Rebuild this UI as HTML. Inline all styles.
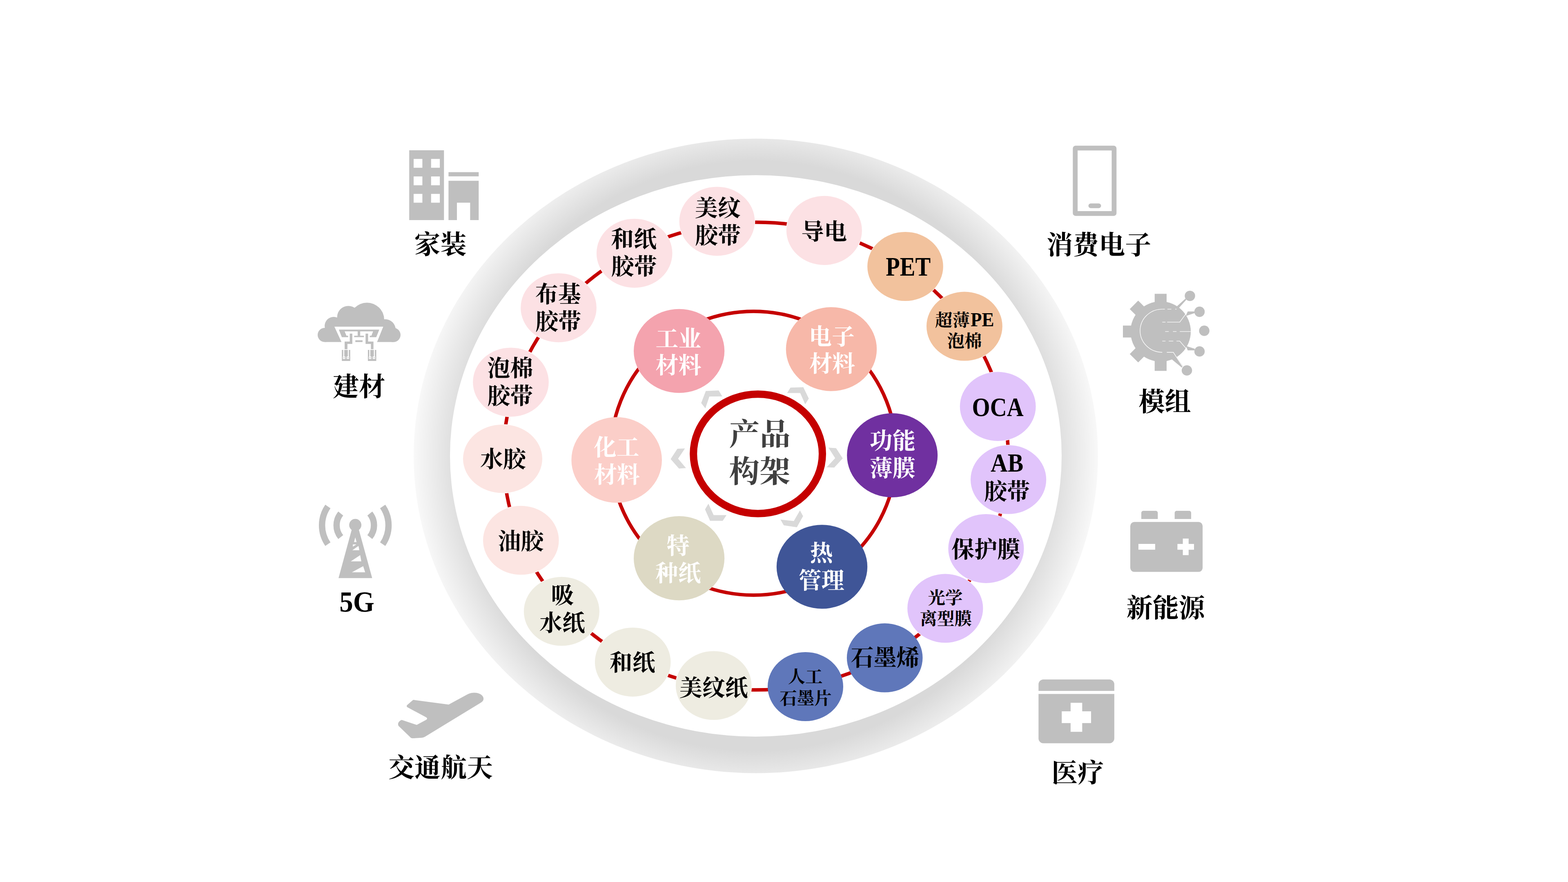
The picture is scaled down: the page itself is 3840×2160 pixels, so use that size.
<!DOCTYPE html>
<html lang="zh-CN"><head><meta charset="utf-8"><title>产品构架</title>
<style>html,body{margin:0;padding:0;background:#fff;}body{width:3840px;height:2160px;overflow:hidden;position:relative}svg{display:block;position:absolute;left:0;top:0}text{font-family:'Liberation Serif','Noto Serif CJK SC',serif;font-weight:700;text-anchor:middle;}</style></head><body>
<svg width="3840" height="2160" viewBox="0 0 3840 2160">
<defs><radialGradient id="rg" gradientUnits="userSpaceOnUse" cx="1851" cy="1116.4" r="862"><stop offset="0" stop-color="#d9d9d9"/><stop offset="0.8376" stop-color="#d9d9d9"/><stop offset="1" stop-color="#ffffff"/></radialGradient></defs>
<path d="M1013,1116.4a838,777 0 1,0 1676,0a838,777 0 1,0 -1676,0zM1102,1116.4a749,687.5 0 1,0 1498,0a749,687.5 0 1,0 -1498,0z" fill="url(#rg)" fill-rule="evenodd"/>
<ellipse cx="1851" cy="1116.9" rx="618" ry="572.7" fill="none" stroke="#c50000" stroke-width="8.5"/>
<ellipse cx="1845.5" cy="1110" rx="350" ry="347.5" fill="none" stroke="#c50000" stroke-width="8.5"/>
<polygon points="1728.5,957.4 1760.0,956.2 1768.9,970.8 1737.3,971.0 1727.4,999.9 1717.2,987.1" fill="#d9d9d9"/>
<polygon points="1935.8,949.2 1967.3,948.3 1980.7,976.0 1971.9,990.0 1959.7,962.6 1927.7,962.6" fill="#d9d9d9"/>
<polygon points="1734.9,1233.6 1747.7,1261.6 1779.2,1261.6 1769.9,1275.6 1739.0,1275.6 1726.6,1247.6" fill="#d9d9d9"/>
<polygon points="1959.1,1249.9 1966.7,1263.9 1951.5,1291.3 1919.5,1286.6 1911.4,1272.6 1944.0,1276.1" fill="#d9d9d9"/>
<polygon points="1658.9,1099.0 1677.4,1098.2 1660.6,1123.3 1679.9,1146.3 1662.8,1147.6 1642.4,1124.2" fill="#d9d9d9"/>
<polygon points="2028.8,1096.3 2047.5,1097.4 2063.8,1122.5 2043.1,1145.1 2024.4,1144.3 2045.3,1122.0" fill="#d9d9d9"/>
<ellipse cx="1856.1" cy="1111.5" rx="157.9" ry="146.2" fill="#fff" stroke="#c50000" stroke-width="18"/>
<g fill="#fff">
<ellipse cx="1756.0" cy="541.9" rx="93.4" ry="85.5"/>
<ellipse cx="1553.7" cy="620.2" rx="93.8" ry="85.5"/>
<ellipse cx="1368.0" cy="753.7" rx="93.8" ry="85.5"/>
<ellipse cx="1251.0" cy="935.9" rx="93.8" ry="85.5"/>
<ellipse cx="1231.0" cy="1123.5" rx="98" ry="84.8"/>
<ellipse cx="1275.8" cy="1323.2" rx="93.8" ry="85.4"/>
<ellipse cx="1375.4" cy="1497.2" rx="93.5" ry="85.4"/>
<ellipse cx="1549.7" cy="1621.4" rx="93.8" ry="85.5"/>
<ellipse cx="1747.7" cy="1678.8" rx="93.8" ry="85.3"/>
<ellipse cx="2314.8" cy="1489.8" rx="93.6" ry="85.2"/>
<ellipse cx="2414.9" cy="1343.4" rx="93.6" ry="85.5"/>
<ellipse cx="2469.6" cy="1174.5" rx="93.6" ry="85.3"/>
<ellipse cx="2443.7" cy="995.4" rx="93.9" ry="85.6"/>
<ellipse cx="2361.9" cy="799.1" rx="93.9" ry="85.5"/>
<ellipse cx="2217.0" cy="652.5" rx="93.8" ry="85.5"/>
<ellipse cx="2018.4" cy="564.4" rx="93.5" ry="85.6"/>
</g>
<ellipse cx="1756.0" cy="541.9" rx="92.4" ry="84.5" fill="#fce1e4"/>
<ellipse cx="1553.7" cy="620.2" rx="92.8" ry="84.5" fill="#fce1e4"/>
<ellipse cx="1368.0" cy="753.7" rx="92.8" ry="84.5" fill="#fce1e4"/>
<ellipse cx="1251.0" cy="935.9" rx="92.8" ry="84.5" fill="#fce1e4"/>
<ellipse cx="1231.0" cy="1123.5" rx="97" ry="83.8" fill="#fce5e2"/>
<ellipse cx="1275.8" cy="1323.2" rx="92.8" ry="84.4" fill="#fce5e2"/>
<ellipse cx="1375.4" cy="1497.2" rx="92.5" ry="84.4" fill="#eeece1"/>
<ellipse cx="1549.7" cy="1621.4" rx="92.8" ry="84.5" fill="#eeece1"/>
<ellipse cx="1747.7" cy="1678.8" rx="92.8" ry="84.3" fill="#eeece1"/>
<ellipse cx="1972.5" cy="1681.5" rx="92.5" ry="84.5" fill="#5f77ba"/>
<ellipse cx="2166.7" cy="1611.1" rx="92.8" ry="84.5" fill="#5f77ba"/>
<ellipse cx="2314.8" cy="1489.8" rx="92.6" ry="84.2" fill="#e1c4fb"/>
<ellipse cx="2414.9" cy="1343.4" rx="92.6" ry="84.5" fill="#e1c4fb"/>
<ellipse cx="2469.6" cy="1174.5" rx="92.6" ry="84.3" fill="#e1c4fb"/>
<ellipse cx="2443.7" cy="995.4" rx="92.9" ry="84.6" fill="#e1c4fb"/>
<ellipse cx="2361.9" cy="799.1" rx="92.9" ry="84.5" fill="#f2c29d"/>
<ellipse cx="2217.0" cy="652.5" rx="92.8" ry="84.5" fill="#f2c29d"/>
<ellipse cx="2018.4" cy="564.4" rx="92.5" ry="84.6" fill="#fce1e4"/>
<ellipse cx="1663.1" cy="859.5" rx="111.1" ry="102.8" fill="#f4a3ae"/>
<ellipse cx="2036.0" cy="855.0" rx="111.2" ry="102.8" fill="#f7b8a9"/>
<ellipse cx="2185.2" cy="1115.0" rx="111" ry="103" fill="#7030a0"/>
<ellipse cx="2013.0" cy="1388.0" rx="111.2" ry="102.8" fill="#3f5597"/>
<ellipse cx="1663.1" cy="1367.2" rx="111.1" ry="103.1" fill="#ddd9c4"/>
<ellipse cx="1510.2" cy="1126.4" rx="110.8" ry="104.8" fill="#fbcec8"/>
<text x="1757.8" y="528.7" font-size="56">美纹</text>
<text x="1758.3" y="595.5" font-size="56">胶带</text>
<text x="1552.2" y="605.4" font-size="56">和纸</text>
<text x="1552.7" y="672.4" font-size="56">胶带</text>
<text x="1366.8" y="740.3" font-size="56">布基</text>
<text x="1367.2" y="806.6" font-size="56">胶带</text>
<text x="1249.6" y="921.4" font-size="56">泡棉</text>
<text x="1249.6" y="988.8" font-size="56">胶带</text>
<text x="1232.1" y="1144.3" font-size="56">水胶</text>
<text x="1275.6" y="1345.1" font-size="56">油胶</text>
<text x="1377.4" y="1477.4" font-size="56">吸</text>
<text x="1377.1" y="1545.3" font-size="56">水纸</text>
<text x="1548.8" y="1641.8" font-size="56">和纸</text>
<text x="1747.8" y="1703.7" font-size="56">美纹纸</text>
<text x="1972.3" y="1671.5" font-size="42.5">人工</text>
<text x="1972.9" y="1724.8" font-size="42.5">石墨片</text>
<text x="2167.4" y="1630.0" font-size="56">石墨烯</text>
<text x="2315.1" y="1479.2" font-size="42.5">光学</text>
<text x="2316.3" y="1529.8" font-size="42.5">离型膜</text>
<text x="2414.2" y="1365.4" font-size="56">保护膜</text>
<text transform="translate(2466.1,1155.3) scale(0.904,1)" font-size="63.8">AB</text>
<text x="2466.2" y="1222.9" font-size="56">胶带</text>
<text transform="translate(2443.6,1018.7) scale(0.863,1)" font-size="65.7">OCA</text>
<text x="2332.4" y="798.6" font-size="42.5">超薄</text>
<text transform="translate(2405.8,799.0) scale(0.910,1)" font-size="49.4">PE</text>
<text x="2362.1" y="849.6" font-size="42.5">泡棉</text>
<text transform="translate(2224.2,675.0) scale(0.870,1)" font-size="64.9">PET</text>
<text x="2018.2" y="587.1" font-size="56">导电</text>
<text x="1661.5" y="848.6" font-size="56" fill="#fff">工业</text>
<text x="1661.5" y="914.2" font-size="56" fill="#fff">材料</text>
<text x="2037.1" y="843.9" font-size="56" fill="#fff">电子</text>
<text x="2037.9" y="910.1" font-size="56" fill="#fff">材料</text>
<text x="2185.8" y="1099.4" font-size="56" fill="#fff">功能</text>
<text x="2185.8" y="1165.8" font-size="56" fill="#fff">薄膜</text>
<text x="2011.5" y="1374.2" font-size="56" fill="#fff">热</text>
<text x="2011.8" y="1441.4" font-size="56" fill="#fff">管理</text>
<text x="1660.4" y="1355.7" font-size="56" fill="#fff">特</text>
<text x="1660.8" y="1423.0" font-size="56" fill="#fff">种纸</text>
<text x="1509.8" y="1115.0" font-size="56" fill="#fff">化工</text>
<text x="1510.7" y="1181.8" font-size="56" fill="#fff">材料</text>
<text x="1860.8" y="1089.5" font-size="75" fill="#404040">产品</text>
<text x="1860.2" y="1180.7" font-size="75" fill="#404040">构架</text>
<text x="1078.5" y="621.4" font-size="64">家装</text>
<text x="879.1" y="969.3" font-size="64">建材</text>
<text transform="translate(874.0,1497.7) scale(0.922,1)" font-size="72.6">5G</text>
<text x="1079.0" y="1902.2" font-size="64">交通航天</text>
<text x="2691.2" y="621.6" font-size="64">消费电子</text>
<text x="2852.5" y="1006.4" font-size="64">模组</text>
<text x="2854.8" y="1510.8" font-size="64">新能源</text>
<text x="2639.1" y="1914.7" font-size="64">医疗</text>
<g fill="#bfbfbf">
<rect x="1002.2" y="368" width="85.1" height="171"/>
<rect x="1098.4" y="421.6" width="73.9" height="10.3"/>
<rect x="1098.4" y="442.7" width="73.9" height="96.3"/>
</g><g fill="#fff">
<rect x="1013" y="389.2" width="21.4" height="21.6"/>
<rect x="1013" y="432.1" width="21.4" height="21.6"/>
<rect x="1013" y="474.8" width="21.4" height="21.6"/>
<rect x="1055.7" y="389.2" width="21.4" height="21.6"/>
<rect x="1055.7" y="432.1" width="21.4" height="21.6"/>
<rect x="1055.7" y="474.8" width="21.4" height="21.6"/>
<rect x="1119" y="496.4" width="32.4" height="43"/>
</g>
<g transform="translate(770,730) scale(0.11387)">
<g fill="#bfbfbf">
<circle cx="222" cy="792" r="152"/>
<circle cx="415" cy="600" r="195"/>
<circle cx="730" cy="410" r="242"/>
<circle cx="1130" cy="470" r="372"/>
<circle cx="1520" cy="682" r="228"/>
<circle cx="1697" cy="792" r="155"/>
<rect x="222" y="640" width="1475" height="305"/>
</g>
<polygon points="430,615 1480,615 1345,950 585,950" fill="#fff"/>
<g fill="#bfbfbf">
<polygon points="525,678 1395,678 1330,840 1190,840 1190,810 1225,810 1262,715 650,715 690,810 725,810 725,840 590,840"/>
<rect x="930" y="700" width="55" height="112"/>
<rect x="855" y="810" width="210" height="30"/>
<rect x="880" y="908" width="155" height="37"/>
<path d="M760,765h55v220h-105v115h-60v-165h110z"/>
<path d="M1155,765h-55v220h115v115h55v-165h-115z"/>
<rect x="590" y="1115" width="180" height="237"/>
<rect x="1150" y="1115" width="180" height="237"/>
</g>
<g fill="#fff">
<rect x="620" y="1115" width="22" height="150"/>
<rect x="718" y="1115" width="22" height="150"/>
<rect x="612" y="1255" width="52" height="55"/>
<rect x="694" y="1255" width="52" height="55"/>
<rect x="1180" y="1115" width="22" height="150"/>
<rect x="1278" y="1115" width="22" height="150"/>
<rect x="1172" y="1255" width="52" height="55"/>
<rect x="1254" y="1255" width="52" height="55"/>
</g>
<g fill="#bfbfbf">
<rect x="630" y="1272" width="18" height="20"/>
<rect x="712" y="1272" width="18" height="20"/>
<rect x="1190" y="1272" width="18" height="20"/>
<rect x="1272" y="1272" width="18" height="20"/>
</g>
</g>
<g transform="translate(770,1225) scale(0.13803)">
<g fill="#bfbfbf">
<circle cx="725" cy="440" r="108"/>
<polygon points="668,500 782,500 1025,1382 428,1382"/>
</g>
<g fill="#fff">
<polygon points="725,660 748,742 703,742"/>
<polygon points="682,785 745,785 682,825"/>
<polygon points="782,812 797,888 672,888"/>
<polygon points="812,975 832,1085 645,1085"/>
<polygon points="865,1170 900,1278 665,1278"/>
</g>
<path d="M983.0,236.1A332,332 0 0,1 983.0,653.9" fill="none" stroke="#bfbfbf" stroke-width="112"/>
<path d="M467.0,653.9A332,332 0 0,1 467.0,236.1" fill="none" stroke="#bfbfbf" stroke-width="112"/>
<path d="M1211.2,110.8A590,590 0 0,1 1211.2,779.2" fill="none" stroke="#bfbfbf" stroke-width="112"/>
<path d="M238.8,779.2A590,590 0 0,1 238.8,110.8" fill="none" stroke="#bfbfbf" stroke-width="112"/>
</g>
<g transform="translate(960,1680) scale(0.10354)">
<path fill="#bfbfbf" d="M1340,440 L1780,200 C1850,165 1900,160 1950,160 C2080,160 2165,230 2165,300 C2165,350 2130,380 2090,400 L780,1200 C750,1215 730,1222 700,1225 L490,1237 C460,1238 445,1228 430,1210 L160,950 C130,910 140,850 200,815 C215,805 230,802 250,808 L585,920 L810,800 C835,785 835,760 810,742 L370,505 C345,490 340,465 360,448 L480,345 C495,332 505,328 525,330 Z"/>
</g>
<rect x="2633.2" y="362.7" width="95.2" height="160.2" rx="1" fill="none" stroke="#bfbfbf" stroke-width="11.8" stroke-linejoin="round"/>
<rect x="2665.5" y="498.3" width="31" height="11.4" rx="5.7" fill="#bfbfbf"/>
<g transform="translate(2740,700) scale(0.15873)">
<g fill="#bfbfbf">
<circle cx="645" cy="705" r="465"/>
<rect x="1025" y="613" width="202" height="184" transform="rotate(-90 645 705)"/>
<rect x="1025" y="613" width="227" height="184" transform="rotate(90 645 705)"/>
<rect x="1025" y="613" width="202" height="184" transform="rotate(180 645 705)"/>
<rect x="1025" y="613" width="202" height="184" transform="rotate(225 645 705)"/>
<rect x="1025" y="613" width="202" height="184" transform="rotate(135 645 705)"/>
<circle cx="1097" cy="155" r="80"/>
<circle cx="1245" cy="400" r="80"/>
<circle cx="1318" cy="693" r="80"/>
<circle cx="1245" cy="1012" r="80"/>
<circle cx="1050" cy="1305" r="80"/>
<polygon points="880,330 1030,195 1040,215 905,365"/>
<polygon points="1035,465 1060,395 1170,395 1170,420"/>
<polygon points="1040,930 1060,995 1170,995 1170,970"/>
<polygon points="800,1120 850,1040 990,1240 970,1260"/>
</g>
<g fill="none" stroke="#fff" stroke-width="9">
<path d="M670,360A342,332.5 0 0,0 670,1025"/>
<path d="M670,360H890" stroke-dasharray="40 40 60 60 50 0"/>
<path d="M670,560H940L1060,398" stroke-dasharray="50 25 600 0"/>
<path d="M715,705H1108" stroke-dasharray="55 65 55 50 170 0"/>
<path d="M670,853H940L1060,992" stroke-dasharray="50 50 70 50 600 0"/>
<path d="M740,1025H840L985,1245"/>
</g>
</g>
<g fill="#bfbfbf">
<rect x="2768" y="1278.2" width="177.2" height="122.4" rx="10"/>
<path d="M2795,1271v-15a5,5 0 0 1 5,-5h30.4a5,5 0 0 1 5,5v15z"/>
<path d="M2876.7,1271v-15a5,5 0 0 1 5,-5h30.4a5,5 0 0 1 5,5v15z"/>
</g><g fill="#fff">
<rect x="2788" y="1332" width="41" height="14.2"/>
<rect x="2883.5" y="1332.1" width="40.6" height="14.2"/>
<rect x="2896.7" y="1318.9" width="14.2" height="40.6"/>
</g>
<g fill="#bfbfbf">
<path d="M2543.3,1692v-16a12,12 0 0 1 12,-12h161.6a12,12 0 0 1 12,12v16z"/>
<path d="M2543.3,1699.5h185.6v108.7a12,12 0 0 1 -12,12h-161.6a12,12 0 0 1 -12,-12z"/>
</g><g fill="#fff">
<rect x="2600.2" y="1742" width="71.8" height="28.8"/>
<rect x="2621.9" y="1721.1" width="28.4" height="71.1"/>
</g>
</svg></body></html>
